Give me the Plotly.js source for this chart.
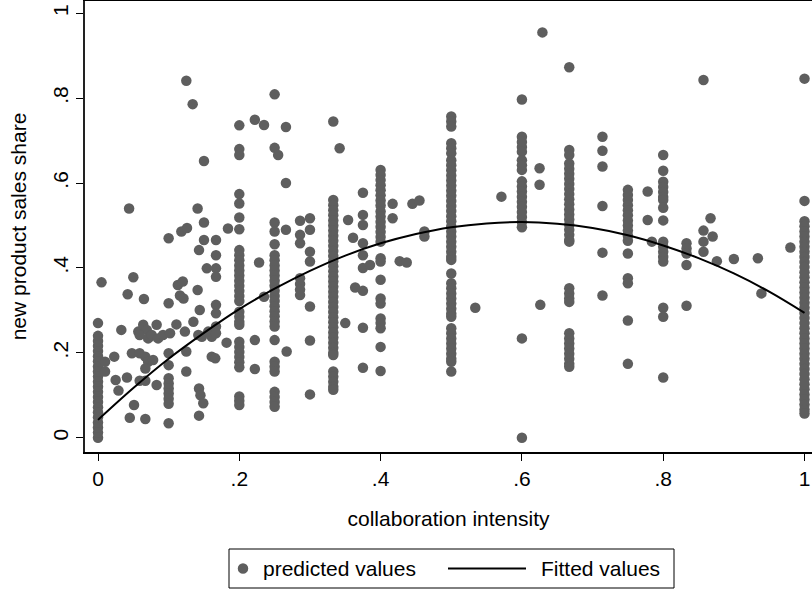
<!DOCTYPE html>
<html>
<head>
<meta charset="utf-8">
<script src="https://cdn.plot.ly/plotly-3.0.1.min.js"></script>
<style>
  html, body { margin: 0; padding: 0; background: #fff; overflow: hidden; }
  #chart { width: 812px; height: 590px; }
</style>
</head>
<body>
<div id="chart"></div>
<script>
// ---- tick labels ----
const tickVals = [0, 0.2, 0.4, 0.6, 0.8, 1];
const tickText = ['0', '.2', '.4', '.6', '.8', '1'];
const seriesNames = ['predicted values', 'Fitted values'];

// ---- predicted values: vertical columns at common collaboration intensities ----
const colX = [0, 0.1, 0.2, 0.25, 0.286, 0.3, 0.333, 0.375, 0.4, 0.5, 0.6, 0.667, 0.714, 0.75, 0.8, 0.833, 0.857, 1];
const yAt0 = [0,0.012,0.024,0.036,0.048,0.06,0.072,0.084,0.096,0.108,0.12,0.132,0.144,0.156,0.168,0.18,0.192,0.204,0.216,0.228,0.24,0.27];
const yAt010 = [0.47,0.317,0.199,0.171,0.14,0.128,0.116,0.104,0.092,0.08,0.034];
const yAt020 = [0.736,0.68,0.666,0.574,0.552,0.519,0.491,0.442,0.43,0.418,0.406,0.394,0.382,0.37,0.358,0.346,0.334,0.322,0.297,0.285,0.273,0.266,0.226,0.214,0.202,0.19,0.178,0.166,0.097,0.087,0.077];
const yAt025 = [0.809,0.683,0.507,0.486,0.456,0.43,0.418,0.406,0.394,0.382,0.37,0.358,0.346,0.334,0.322,0.31,0.298,0.286,0.274,0.262,0.23,0.179,0.167,0.156,0.108,0.096,0.084,0.073];
const yAt0286 = [0.511,0.478,0.458,0.376,0.362,0.349,0.336];
const yAt030 = [0.517,0.49,0.438,0.415,0.309,0.229,0.102];
const yAt0333 = [0.745,0.56,0.548,0.536,0.524,0.512,0.5,0.488,0.476,0.464,0.452,0.44,0.428,0.416,0.404,0.392,0.38,0.368,0.356,0.344,0.332,0.32,0.308,0.296,0.284,0.272,0.26,0.248,0.236,0.224,0.212,0.2,0.195,0.156,0.144,0.132,0.12,0.113];
const yAt0375 = [0.577,0.525,0.501,0.458,0.43,0.4,0.346,0.259,0.165];
const yAt040 = [0.631,0.619,0.607,0.595,0.583,0.571,0.559,0.547,0.533,0.521,0.509,0.497,0.485,0.473,0.462,0.423,0.415,0.372,0.328,0.316,0.281,0.27,0.258,0.214,0.157];
const yAt050 = [0.757,0.745,0.733,0.694,0.682,0.67,0.654,0.642,0.63,0.618,0.606,0.594,0.582,0.57,0.558,0.546,0.534,0.522,0.51,0.498,0.486,0.474,0.462,0.45,0.438,0.426,0.419,0.387,0.364,0.352,0.34,0.328,0.316,0.304,0.292,0.285,0.258,0.246,0.234,0.222,0.21,0.198,0.186,0.179,0.156];
const yAt060 = [0.797,0.709,0.697,0.685,0.674,0.654,0.642,0.631,0.604,0.592,0.58,0.568,0.556,0.544,0.532,0.52,0.508,0.496,0.234,0];
const yAt0667 = [0.873,0.678,0.666,0.646,0.634,0.622,0.61,0.598,0.586,0.574,0.562,0.55,0.538,0.526,0.514,0.502,0.49,0.478,0.466,0.462,0.352,0.34,0.328,0.32,0.246,0.234,0.222,0.21,0.198,0.186,0.174,0.167];
const yAt0714 = [0.709,0.676,0.639,0.546,0.436,0.335];
const yAt075 = [0.584,0.572,0.56,0.548,0.536,0.524,0.512,0.5,0.488,0.476,0.464,0.434,0.376,0.364,0.276,0.174];
const yAt080 = [0.666,0.629,0.603,0.591,0.579,0.567,0.56,0.542,0.512,0.462,0.45,0.438,0.426,0.415,0.306,0.285,0.142];
const yAt0833 = [0.458,0.446,0.434,0.407,0.311];
const yAt0857 = [0.843,0.488,0.462,0.438];
const yAt1 = [0.846,0.558,0.51,0.498,0.486,0.474,0.462,0.45,0.438,0.426,0.414,0.402,0.39,0.378,0.366,0.354,0.342,0.33,0.318,0.306,0.294,0.282,0.27,0.258,0.246,0.234,0.222,0.21,0.198,0.186,0.174,0.162,0.15,0.138,0.126,0.114,0.102,0.09,0.078,0.066,0.057];
const colY = [yAt0, yAt010, yAt020, yAt025, yAt0286, yAt030, yAt0333, yAt0375, yAt040, yAt050, yAt060, yAt0667, yAt0714, yAt075, yAt080, yAt0833, yAt0857, yAt1];

// ---- predicted values: scattered points ----
const scatterX = [0.005,0.01,0.01,
  0.044,0.05,0.042,0.065,0.033,0.023,0.025,0.029,0.041,0.048,0.051,0.045,0.067,0.059,
  0.057,0.064,0.069,0.071,0.059,0.083,0.076,0.085,0.092,0.102,0.111,
  0.059,0.067,0.071,0.067,0.078,0.083,0.067,
  0.113,0.12,0.116,0.121,0.125,0.125,0.123,0.135,0.144,0.141,0.142,0.147,0.143,0.145,0.149,0.143,
  0.161,0.166,0.161,0.156,0.154,0.167,0.167,0.167,0.167,0.15,0.143,0.167,0.167,0.167,0.167,0.182,
  0.125,0.134,0.15,0.141,0.15,0.118,0.126,0.184,
  0.222,0.235,0.266,0.266,0.266,0.255,0.222,0.222,0.228,0.235,0.267,
  0.342,0.354,0.35,0.361,0.385,0.364,
  0.417,0.417,0.427,0.437,0.445,0.455,0.462,0.462,
  0.534,0.571,0.625,0.625,0.629,0.626,
  0.778,0.778,0.784,0.867,0.87,0.876,0.9,0.934,0.939,0.98];
const scatterY = [0.366,0.179,0.156,
  0.54,0.378,0.338,0.327,0.254,0.191,0.136,0.111,0.142,0.199,0.077,0.047,0.044,0.134,
  0.25,0.266,0.254,0.234,0.242,0.266,0.242,0.234,0.242,0.246,0.267,
  0.199,0.191,0.179,0.163,0.183,0.124,0.134,
  0.36,0.368,0.335,0.328,0.203,0.156,0.25,0.273,0.301,0.348,0.242,0.238,0.116,0.1,0.081,0.052,
  0.191,0.187,0.238,0.25,0.399,0.399,0.43,0.379,0.466,0.466,0.442,0.313,0.293,0.262,0.246,0.224,
  0.841,0.786,0.652,0.54,0.507,0.486,0.494,0.493,
  0.749,0.737,0.732,0.6,0.49,0.666,0.23,0.162,0.413,0.332,0.203,
  0.682,0.513,0.27,0.471,0.407,0.354,
  0.551,0.517,0.416,0.413,0.551,0.559,0.486,0.474,
  0.306,0.568,0.635,0.596,0.955,0.313,
  0.58,0.513,0.462,0.517,0.474,0.416,0.421,0.423,0.34,0.448];

// ---- fitted values (quadratic fit line) ----
const fitX = [0,0.05,0.1,0.15,0.2,0.25,0.3,0.35,0.4,0.45,0.5,0.55,0.6,0.65,0.7,0.75,0.8,0.85,0.9,0.95,1];
const fitY = [0.042,0.117,0.186,0.247,0.303,0.351,0.393,0.429,0.458,0.48,0.496,0.505,0.508,0.504,0.494,0.477,0.453,0.423,0.387,0.344,0.294];

// build point arrays
const px = [], py = [];
colX.forEach((xv, i) => { colY[i].forEach(yv => { px.push(xv); py.push(yv); }); });
scatterX.forEach((xv, i) => { px.push(xv); py.push(scatterY[i]); });

const FONT = 'Liberation Sans, Arial, Helvetica, sans-serif';
const FS = 21;
const DOT = '#5e5e5e';

// page geometry (pixels) -> paper coords for the legend box drawn below the plot
const W = 812, H = 590, ML = 85, MR = 0, MT = 1, MB = 138;
const PW = W - ML - MR, PH = H - MT - MB;
const pxX = p => (p - ML) / PW;
const pxY = p => (H - MB - p) / PH;
const legTop = 549, legBot = 588, legMid = 568.5;

const traces = [
  {
    type: 'scatter', mode: 'markers', name: seriesNames[0],
    x: px, y: py,
    marker: { color: DOT, size: 10.5, line: { width: 0 } },
    cliponaxis: false, showlegend: false
  },
  {
    type: 'scatter', mode: 'lines', name: seriesNames[1],
    x: fitX, y: fitY,
    line: { color: '#000000', width: 2, shape: 'spline' },
    showlegend: false
  }
];

const layout = {
  width: W, height: H,
  margin: { l: ML, r: MR, t: MT, b: MB },
  paper_bgcolor: '#ffffff', plot_bgcolor: '#ffffff',
  font: { family: FONT, size: FS, color: '#000000' },
  showlegend: false,
  xaxis: {
    range: [-0.0184, 1.0106],
    tickmode: 'array', tickvals: tickVals, ticktext: tickText,
    ticks: 'outside', ticklen: 7, tickwidth: 1, tickcolor: '#000',
    showline: true, linecolor: '#000', linewidth: 1.5, mirror: true,
    showgrid: false, zeroline: false,
    tickfont: { family: FONT, size: FS, color: '#000' },
    title: { text: 'collaboration intensity', font: { family: FONT, size: FS, color: '#000' }, standoff: 22 }
  },
  yaxis: {
    range: [-0.0337, 1.029],
    tickmode: 'array', tickvals: tickVals, ticktext: tickText,
    tickangle: -90,
    ticks: 'outside', ticklen: 7, tickwidth: 1, tickcolor: '#000',
    showline: true, linecolor: '#222', linewidth: 2, mirror: false,
    showgrid: false, zeroline: false,
    tickfont: { family: FONT, size: FS, color: '#000' },
    title: { text: 'new product sales share', font: { family: FONT, size: FS, color: '#000' }, standoff: 16 }
  },
  shapes: [
    { type: 'rect', xref: 'paper', yref: 'paper',
      x0: pxX(229), x1: pxX(674), y0: pxY(legBot), y1: pxY(legTop),
      line: { color: '#000', width: 1 }, fillcolor: '#fff', layer: 'above' },
    { type: 'circle', xref: 'paper', yref: 'paper',
      x0: pxX(243 - 5.25), x1: pxX(243 + 5.25), y0: pxY(legMid + 5.25), y1: pxY(legMid - 5.25),
      line: { width: 0 }, fillcolor: DOT, layer: 'above' },
    { type: 'line', xref: 'paper', yref: 'paper',
      x0: pxX(448), x1: pxX(526), y0: pxY(legMid), y1: pxY(legMid),
      line: { color: '#000', width: 2 }, layer: 'above' }
  ],
  annotations: [
    { xref: 'paper', yref: 'paper', x: pxX(261), y: pxY(legMid), xanchor: 'left', yanchor: 'middle',
      text: seriesNames[0], showarrow: false, font: { family: FONT, size: FS, color: '#000' } },
    { xref: 'paper', yref: 'paper', x: pxX(539), y: pxY(legMid), xanchor: 'left', yanchor: 'middle',
      text: seriesNames[1], showarrow: false, font: { family: FONT, size: FS, color: '#000' } }
  ]
};

Plotly.newPlot('chart', traces, layout, { displayModeBar: false, staticPlot: true });
</script>
</body>
</html>
